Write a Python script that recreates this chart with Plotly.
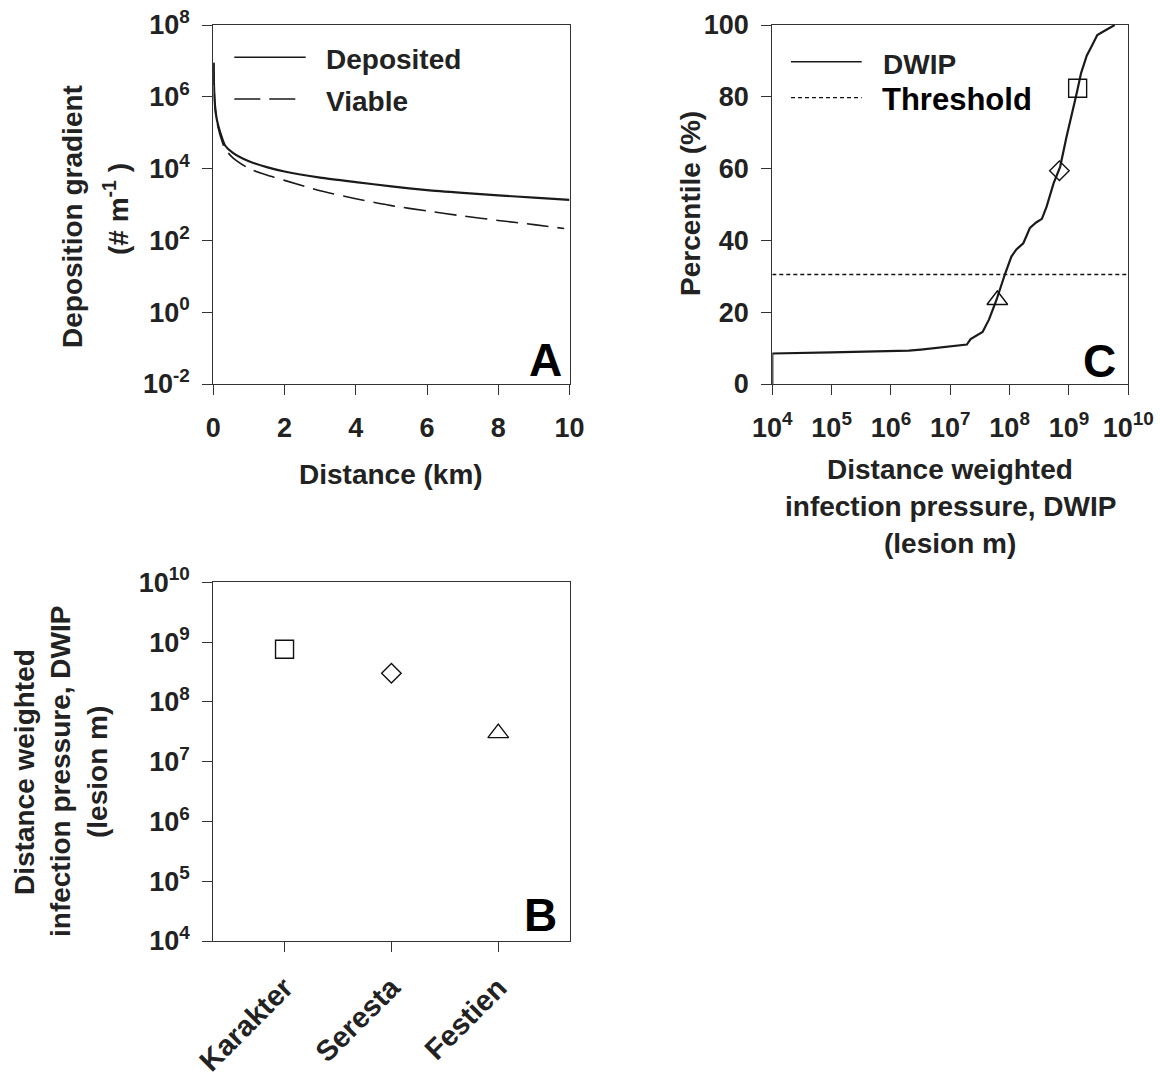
import plotly.graph_objects as go

W, H = 1160, 1080
FONT = "Liberation Sans, Arial, sans-serif"
TXT = "#222222"
AX = "#333333"

# ---------------- data ----------------
# Panel A: deposition gradient vs distance
dist_km = [0.01, 0.02, 0.05, 0.1, 0.2, 0.33, 0.55, 1.0, 1.5, 2.0, 3.0, 4.0, 5.0, 6.0, 7.0, 8.0, 9.0, 10.0]
deposited = [8.9e6, 2.0e6, 5.4e5, 2.3e5, 9.8e4, 4.4e4, 2.75e4, 1.6e4, 1.1e4, 8.3e3, 5.6e3, 4.2e3,
             3.2e3, 2.5e3, 2.1e3, 1.8e3, 1.55e3, 1.35e3]
viable_km = [0.01, 0.02, 0.05, 0.1, 0.2, 0.33, 0.55, 1.0, 1.5, 2.0, 3.0, 4.0, 5.0, 6.0, 7.0, 8.0, 9.0, 9.85]
viable = [8.9e6, 2.0e6, 5.0e5, 2.0e5, 7.9e4, 3.5e4, 2.0e4, 1.0e4, 6.6e3, 4.7e3, 2.4e3, 1.45e3,
          930, 660, 480, 360, 275, 215]
a_xticks = [0, 2, 4, 6, 8, 10]
a_yticks = [1e-2, 1e0, 1e2, 1e4, 1e6, 1e8]
a_yticktext = ["10<sup>-2</sup>", "10<sup>0</sup>", "10<sup>2</sup>", "10<sup>4</sup>",
               "10<sup>6</sup>", "10<sup>8</sup>"]

# Panel C: cumulative distribution of DWIP
dwip = [1.0e4, 1.0e4, 1.0e5, 1.0e6, 2.0e6, 3.2e6, 1.0e7, 1.9e7, 2.2e7, 2.8e7, 3.5e7, 4.5e7,
        6.0e7, 8.3e7, 1.07e8, 1.3e8, 1.7e8, 2.2e8, 2.8e8, 3.5e8, 4.2e8, 5.5e8, 7.1e8, 9.1e8,
        1.1e9, 1.35e9, 1.6e9, 2.0e9, 2.4e9, 3.0e9, 4.2e9, 5.9e9]
percentile = [0, 8.5, 8.8, 9.1, 9.3, 9.6, 10.4, 11.0, 12.5, 13.5, 14.5, 18.0,
              23.4, 30.5, 35.5, 37.5, 39.2, 43.5, 45.0, 46.0, 49.4, 55.9, 60.5, 68.9,
              74.5, 81.0, 86.6, 91.5, 94.0, 97.2, 98.6, 100]
threshold_pct = 30.5
dwip_span = [1e4, 1e10]
c_xticks = [1e4, 1e5, 1e6, 1e7, 1e8, 1e9, 1e10]
c_xticktext = ["10<sup>4</sup>", "10<sup>5</sup>", "10<sup>6</sup>", "10<sup>7</sup>",
               "10<sup>8</sup>", "10<sup>9</sup>", "10<sup>10</sup>"]
c_yticks = [0, 20, 40, 60, 80, 100]

# Cultivars
cultivars = ["Karakter", "Seresta", "Festien"]
cultivar_symbols = ["square-open", "diamond-open", "triangle-up-open"]
cultivar_sizes = [18, 15, 18]
cultivar_dwip_B = [7.6e8, 3.0e8, 3.0e7]
cultivar_dwip_C = [1.4e9, 6.9e8, 6.2e7]
cultivar_pct_C = [82.4, 59.4, 23.4]
b_yticks = [1e4, 1e5, 1e6, 1e7, 1e8, 1e9, 1e10]
b_yticktext = ["10<sup>4</sup>", "10<sup>5</sup>", "10<sup>6</sup>", "10<sup>7</sup>",
               "10<sup>8</sup>", "10<sup>9</sup>", "10<sup>10</sup>"]


def px(x):
    return x / W


def py(y):
    return 1 - y / H


fig = go.Figure()

# Panel A traces
fig.add_trace(go.Scatter(x=dist_km, y=deposited, mode="lines", name="Deposited",
                         line=dict(color="#1a1a1a", width=2.2, shape="spline", smoothing=0.6),
                         xaxis="x", yaxis="y", showlegend=False))
fig.add_trace(go.Scatter(x=viable_km, y=viable, mode="lines", name="Viable",
                         line=dict(color="#1a1a1a", width=1.6, dash="22px,9px", shape="spline",
                                   smoothing=0.6),
                         xaxis="x", yaxis="y", showlegend=False))

# Panel C traces
fig.add_trace(go.Scatter(x=dwip_span, y=[threshold_pct, threshold_pct], mode="lines",
                         name="Threshold", line=dict(color="#111111", width=1.3, dash="4px,3px"),
                         xaxis="x2", yaxis="y2", showlegend=False))
fig.add_trace(go.Scatter(x=dwip, y=percentile, mode="lines", name="DWIP",
                         line=dict(color="#1a1a1a", width=2.2),
                         xaxis="x2", yaxis="y2", showlegend=False))
for i in range(3):
    fig.add_trace(go.Scatter(x=[cultivar_dwip_C[i]], y=[cultivar_pct_C[i]], mode="markers",
                             name=cultivars[i],
                             marker=dict(symbol=cultivar_symbols[i], size=cultivar_sizes[i],
                                         color="#111111", line=dict(width=1.4, color="#111111")),
                             xaxis="x2", yaxis="y2", showlegend=False))

# Panel B traces
for i in range(3):
    fig.add_trace(go.Scatter(x=[cultivars[i]], y=[cultivar_dwip_B[i]], mode="markers",
                             name=cultivars[i],
                             marker=dict(symbol=cultivar_symbols[i], size=cultivar_sizes[i],
                                         color="#111111", line=dict(width=1.4, color="#111111")),
                             xaxis="x3", yaxis="y3", showlegend=False))

tickfont = dict(family=FONT, size=27, color=TXT, weight="bold")
common = dict(showline=True, linecolor=AX, linewidth=1.3, mirror=True, ticks="outside",
              ticklen=10, tickwidth=1.3, tickcolor=AX, showgrid=False, zeroline=False,
              tickfont=tickfont, automargin=False)

xA = [px(213.3), px(569.5)]
yA = [py(384), py(25)]
xC = [px(772.3), px(1128.3)]
yB = [py(941), py(582.3)]

fig.update_layout(
    width=W, height=H, margin=dict(l=0, r=0, t=0, b=0, autoexpand=False),
    paper_bgcolor="white", plot_bgcolor="white", showlegend=False,
    xaxis=dict(domain=xA, anchor="y", range=[0, 10], tickvals=a_xticks,
               ticklabelstandoff=9, **common),
    yaxis=dict(domain=yA, anchor="x", type="log", range=[-2, 8], tickvals=a_yticks,
               ticktext=a_yticktext, ticklabelstandoff=7, **common),
    xaxis2=dict(domain=xC, anchor="y2", type="log", range=[4, 10], tickvals=c_xticks,
                ticktext=c_xticktext, ticklabelstandoff=9, **common),
    yaxis2=dict(domain=yA, anchor="x2", range=[0, 100], tickvals=c_yticks,
                ticklabelstandoff=7, **common),
    xaxis3=dict(domain=xA, anchor="y3", type="category", range=[-2 / 3, 8 / 3],
                tickangle=-45, ticklabelstandoff=7,
                **{**common, "tickfont": dict(family=FONT, size=29, color=TXT, weight="bold")}),
    yaxis3=dict(domain=yB, anchor="x3", type="log", range=[4, 10], tickvals=b_yticks,
                ticktext=b_yticktext, ticklabelstandoff=7, **common),
)

anns = []


def add_text(x, y, text, size=28, angle=0, xanchor="center", yanchor="middle", color=TXT):
    anns.append(dict(x=px(x), y=py(y), xref="paper", yref="paper", text=text, showarrow=False,
                     textangle=angle, xanchor=xanchor, yanchor=yanchor,
                     font=dict(family=FONT, size=size, color=color, weight="bold")))


# axis titles
add_text(72, 217, "Deposition gradient", angle=-90)
add_text(116, 209, "(# m<sup>-1</sup> )", angle=-90)
add_text(391, 474, "Distance (km)")
add_text(690, 204, "Percentile (%)", angle=-90)
add_text(950, 469, "Distance weighted")
add_text(950, 506, "infection pressure, DWIP")
add_text(950, 543, "(lesion m)")
add_text(24, 772, "Distance weighted", angle=-90)
add_text(60, 772, "infection pressure, DWIP", angle=-90)
add_text(97, 772, "(lesion m)", angle=-90)

# panel letters
add_text(564, 360, "A", size=46, xanchor="right", color="#000000")
add_text(1118, 361, "C", size=46, xanchor="right", color="#000000")
add_text(559, 915, "B", size=46, xanchor="right", color="#000000")

# legends (text)
add_text(324, 59.7, "Deposited", xanchor="left")
add_text(324, 101, "Viable", xanchor="left")
add_text(880.7, 64.7, "DWIP", xanchor="left")
add_text(880, 100, "Threshold", size=31, xanchor="left", color="#000000")

fig.update_layout(annotations=anns)

# legend key lines
shapes = [
    dict(type="line", xref="paper", yref="paper", x0=px(234.3), x1=px(305.7), y0=py(57.3), y1=py(57.3),
         line=dict(color="#1a1a1a", width=1.5)),
    dict(type="line", xref="paper", yref="paper", x0=px(234.3), x1=px(296), y0=py(99), y1=py(99),
         line=dict(color="#1a1a1a", width=1.5, dash="26px,9px")),
    dict(type="line", xref="paper", yref="paper", x0=px(791), x1=px(861.7), y0=py(61.7), y1=py(61.7),
         line=dict(color="#1a1a1a", width=1.5)),
    dict(type="line", xref="paper", yref="paper", x0=px(791), x1=px(861.7), y0=py(97.7), y1=py(97.7),
         line=dict(color="#111111", width=1.3, dash="4px,3px")),
]
fig.update_layout(shapes=shapes)

fig.write_html("out.html")
